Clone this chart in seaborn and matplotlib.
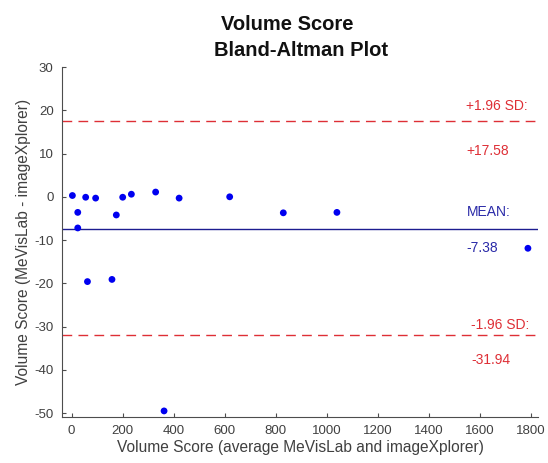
import matplotlib
matplotlib.use("Agg")
import matplotlib.pyplot as plt
import seaborn as sns
import pandas as pd

# ---- data ----
avg_score = [3, 24, 24, 55, 62, 94, 158, 175, 200, 234, 329, 362, 421, 619, 829, 1039, 1787]
diff_score = [0.3, -3.6, -7.2, -0.1, -19.6, -0.3, -19.1, -4.2, -0.1, 0.6, 1.1, -49.5, -0.3, 0.0, -3.7, -3.6, -11.9]
mean_diff = -7.38
upper_loa = 17.58
lower_loa = -31.94
x_ticks = [0, 200, 400, 600, 800, 1000, 1200, 1400, 1600, 1800]
y_ticks = [30, 20, 10, 0, -10, -20, -30, -40, -50]

df = pd.DataFrame({"avg": avg_score, "diff": diff_score})

sns.set_theme(style="ticks")
plt.rcParams["font.family"] = ["Liberation Sans", "DejaVu Sans"]
plt.rcParams["axes.unicode_minus"] = False

axis_col = "#4d4d4d"
red = "#de2f36"
blue_pts = "#0000f0"
blue_line = "#1c1c90"
blue_txt = "#2a2aa8"

fig = plt.figure(figsize=(5.48, 4.63), dpi=100)
ax = fig.add_axes([0.113, 0.0994, 0.869, 0.7558])

sns.scatterplot(data=df, x="avg", y="diff", ax=ax, color=blue_pts, s=24,
                edgecolor="none", linewidth=0, zorder=3)

ax.axhline(upper_loa, color=red, linestyle=(0, (7, 4.5)), linewidth=1.0)
ax.axhline(lower_loa, color=red, linestyle=(0, (7, 4.5)), linewidth=1.0)
ax.axhline(mean_diff, color=blue_line, linestyle="-", linewidth=1.0)

tx = 1546
fs = 10
ax.text(tx, 21.0, "+1.96 SD:", color=red, fontsize=fs, va="center", ha="left")
ax.text(tx, 10.7, "+%.2f" % upper_loa, color=red, fontsize=fs, va="center", ha="left")
ax.text(tx, -3.5, "MEAN:", color=blue_txt, fontsize=fs, va="center", ha="left")
ax.text(tx, -11.8, "%.2f" % mean_diff, color=blue_txt, fontsize=fs, va="center", ha="left")
ax.text(tx + 20, -29.6, "-1.96 SD:", color=red, fontsize=fs, va="center", ha="left")
ax.text(tx + 20, -37.7, "%.2f" % lower_loa, color=red, fontsize=fs, va="center", ha="left")

ax.set_xlim(-38, 1827)
ax.set_ylim(-50.9, 30)
ax.set_xticks(x_ticks)
ax.set_yticks(y_ticks)

for s in ["top", "right"]:
    ax.spines[s].set_visible(False)
for s in ["left", "bottom"]:
    ax.spines[s].set_color(axis_col)
    ax.spines[s].set_linewidth(0.8)

ax.tick_params(axis="both", direction="in", length=3, width=0.8, color=axis_col,
               labelcolor="#404040", labelsize=9.5)
ax.tick_params(axis="x", pad=6)
ax.tick_params(axis="y", pad=6)

ax.set_xlabel("Volume Score (average MeVisLab and imageXplorer)", fontsize=11.2,
              color="#404040", labelpad=2)
ax.set_ylabel("Volume Score (MeVisLab - imageXplorer)", fontsize=11.2,
              color="#404040", labelpad=2)

fig.text(287 / 548, 1 - 30 / 463, "Volume Score", ha="center", va="baseline",
         fontsize=14.5, fontweight="bold", color="#111111")
fig.text(301 / 548, 1 - 56 / 463, "Bland-Altman Plot", ha="center", va="baseline",
         fontsize=14.5, fontweight="bold", color="#111111")

fig.savefig("out.png", dpi=100, facecolor="white")
